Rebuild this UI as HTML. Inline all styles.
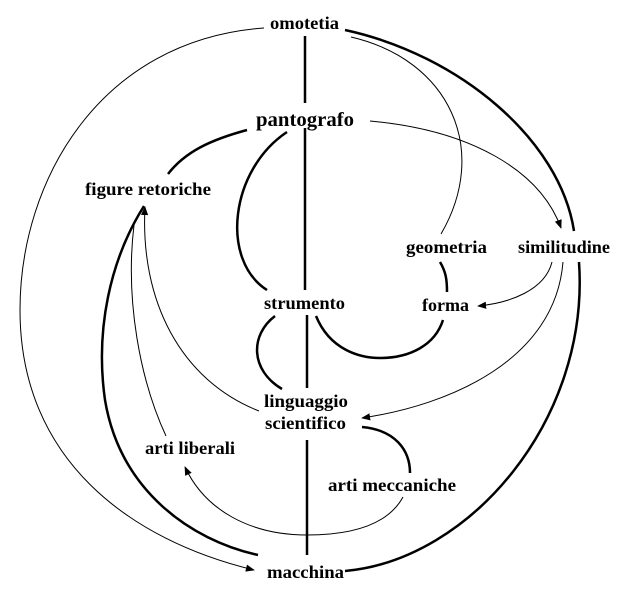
<!DOCTYPE html>
<html><head><meta charset="utf-8"><style>
html,body{margin:0;padding:0;background:#fff;}
svg{display:block;}
text{font-family:"Liberation Serif","Times New Roman",serif;font-weight:bold;font-size:18px;fill:#000;}
</style></head><body>
<svg width="623" height="597" viewBox="0 0 623 597" xmlns="http://www.w3.org/2000/svg">
<defs>
<marker id="a" viewBox="0 0 10 10" refX="9" refY="5" markerWidth="9" markerHeight="9" markerUnits="userSpaceOnUse" orient="auto"><path d="M0,1 L10,5 L0,9 z" fill="#000"/></marker>
</defs>
<g fill="none" stroke="#000">
<path d="M305,36 V103 M305,128 V290 M307,315 V388 M307,440 V555" stroke-width="2.5"/>
<path d="M264,28 C100,40 20,180 20,310 C20,460 130,540 254,570" stroke-width="1" marker-end="url(#a)"/>
<path d="M345,30 C460,55 560,140 574,231" stroke-width="2.5"/>
<path d="M579,262 C590,420 470,560 345,571" stroke-width="2.5"/>
<path d="M351,37 C450,60 490,150 441,234" stroke-width="1"/>
<path d="M370,121 C470,130 540,170 561,228" stroke-width="1" marker-end="url(#a)"/>
<path d="M247,130 C210,140 185,152 168,174" stroke-width="2.5"/>
<path d="M287,132 C230,170 220,260 267,290" stroke-width="2.5"/>
<path d="M440,262 C446,272 447,280 447,292" stroke-width="2.5"/>
<path d="M552,262 C545,290 510,303 478,306" stroke-width="1" marker-end="url(#a)"/>
<path d="M563,262 C555,360 450,405 362,418" stroke-width="1" marker-end="url(#a)"/>
<path d="M316,316 C330,350 360,358 380,358 C410,358 435,345 443,320" stroke-width="2.5"/>
<path d="M275,316 C250,335 250,370 282,389" stroke-width="2.5"/>
<path d="M144,206 C110,260 95,330 105,400 C120,490 190,540 258,555" stroke-width="2.5"/>
<path d="M134,225 C125,300 140,380 166,436" stroke-width="1"/>
<path d="M259,411 C180,380 140,300 145,207" stroke-width="1" marker-end="url(#a)"/>
<path d="M362,427 C395,430 410,450 410,473" stroke-width="2.5"/>
<path d="M403,497 C385,530 340,535 307,535 C250,535 205,510 185,467" stroke-width="1" marker-end="url(#a)"/>
</g>
<text x="270" y="29" textLength="69" lengthAdjust="spacingAndGlyphs">omotetia</text>
<text x="256" y="126" textLength="98" lengthAdjust="spacingAndGlyphs" style="font-size:20px">pantografo</text>
<text x="85" y="195" textLength="126" lengthAdjust="spacingAndGlyphs">figure retoriche</text>
<text x="406" y="253" textLength="81" lengthAdjust="spacingAndGlyphs">geometria</text>
<text x="518" y="253" textLength="92" lengthAdjust="spacingAndGlyphs">similitudine</text>
<text x="264" y="309" textLength="81" lengthAdjust="spacingAndGlyphs">strumento</text>
<text x="422" y="311" textLength="47" lengthAdjust="spacingAndGlyphs">forma</text>
<text x="264" y="407" textLength="84" lengthAdjust="spacingAndGlyphs">linguaggio</text>
<text x="265" y="429" textLength="81" lengthAdjust="spacingAndGlyphs">scientifico</text>
<text x="145" y="454" textLength="90" lengthAdjust="spacingAndGlyphs">arti liberali</text>
<text x="328" y="491" textLength="128" lengthAdjust="spacingAndGlyphs">arti meccaniche</text>
<text x="267" y="578" textLength="77" lengthAdjust="spacingAndGlyphs">macchina</text>
</svg>
</body></html>
